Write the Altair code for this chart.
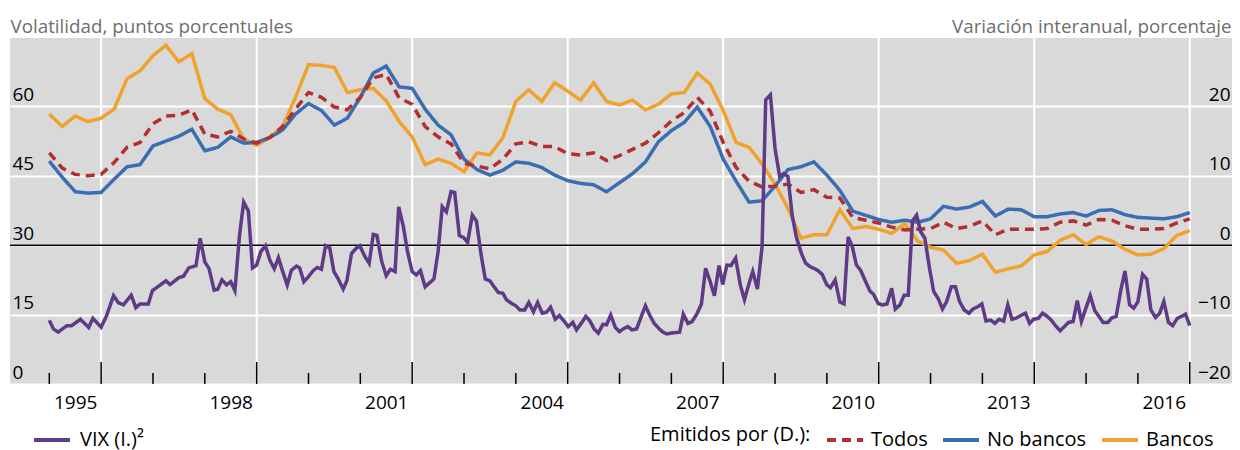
import altair as alt
import pandas as pd

# ---------------- data ----------------
bancos = [18.9, 17.1, 18.6, 17.8, 18.3, 19.6, 24.0, 25.1, 27.3, 28.8, 26.4, 27.6,
          21.1, 19.6, 18.8, 15.3, 14.4, 15.5, 17.1, 21.3, 26.0, 25.9, 25.6, 22.0,
          22.4, 22.6, 20.8, 17.8, 15.6, 11.6, 12.4, 11.8, 10.6, 13.3, 13.0, 15.5,
          20.7, 22.4, 20.7, 23.4, 22.2, 20.9, 23.4, 20.7, 20.2, 20.9, 19.5, 20.3,
          21.8, 22.0, 24.8, 23.2, 19.4, 14.8, 14.1, 11.7, 8.8, 5.3, 1.0, 1.5,
          1.5, 5.1, 2.4, 2.7, 2.3, 1.7, 3.1, 0.6, -0.3, -0.7, -2.6, -2.2,
          -1.3, -3.9, -3.4, -3.0, -1.4, -0.9, 0.7, 1.5, 0.1, 1.2, 0.6, -0.6,
          -1.4, -1.3, -0.5, 1.4, 2.1]
no_bancos = [12.1, 9.8, 7.7, 7.5, 7.6, 9.5, 11.3, 11.6, 14.3, 15.0, 15.7, 16.7,
             13.6, 14.1, 15.6, 14.7, 14.8, 15.5, 16.6, 18.9, 20.4, 19.4, 17.3, 18.3,
             21.3, 24.8, 25.8, 22.8, 22.6, 19.6, 17.3, 15.9, 12.4, 10.9, 10.1, 10.8,
             12.0, 11.8, 11.2, 10.1, 9.3, 8.9, 8.7, 7.7, 9.0, 10.3, 12.0, 14.9,
             16.5, 17.7, 19.9, 17.1, 12.4, 9.2, 6.2, 6.4, 8.5, 10.9, 11.3, 12.0,
             10.1, 7.9, 4.9, 4.3, 3.7, 3.3, 3.6, 3.3, 3.8, 5.6, 5.2, 5.5,
             6.3, 4.2, 5.2, 5.1, 4.1, 4.1, 4.5, 4.7, 4.2, 5.0, 5.1, 4.4,
             4.0, 3.9, 3.8, 4.1, 4.7]
todos = [13.3, 11.1, 10.2, 10.0, 10.2, 11.9, 14.1, 14.8, 17.5, 18.6, 18.7, 19.5,
         16.0, 15.6, 16.4, 15.3, 14.7, 15.5, 17.1, 19.6, 22.0, 21.3, 19.9, 19.5,
         21.3, 24.1, 24.6, 21.2, 20.3, 17.1, 15.6, 14.6, 11.8, 11.4, 11.0, 12.4,
         14.6, 14.9, 14.2, 14.2, 13.2, 13.0, 13.3, 12.2, 12.9, 13.8, 14.7, 16.2,
         17.9, 19.1, 21.3, 19.3, 14.8, 11.2, 9.2, 8.4, 8.5, 8.8, 7.6, 8.0,
         6.9, 6.8, 4.0, 3.6, 3.2, 2.6, 2.2, 2.3, 2.4, 3.3, 2.4, 2.7,
         3.5, 1.5, 2.3, 2.3, 2.3, 2.4, 3.3, 3.5, 2.9, 3.7, 3.6, 2.8,
         2.3, 2.3, 2.4, 3.2, 3.8]
quarters = [1995 + 0.25 * i for i in range(len(bancos))]

vix_t = [1995.00, 1995.08, 1995.17, 1995.34, 1995.43, 1995.60, 1995.76, 1995.84, 1996.00, 1996.10,
         1996.24, 1996.33, 1996.43, 1996.58, 1996.67, 1996.75, 1996.91, 1996.99, 1997.09, 1997.25,
         1997.33, 1997.50, 1997.59, 1997.69, 1997.83, 1997.91, 1998.00, 1998.08, 1998.18, 1998.25,
         1998.33, 1998.42, 1998.50, 1998.58, 1998.67, 1998.75, 1998.84, 1998.92, 1999.00, 1999.08,
         1999.17, 1999.26, 1999.34, 1999.42, 1999.50, 1999.59, 1999.67, 1999.77, 1999.83, 1999.91,
         2000.00, 2000.09, 2000.17, 2000.25, 2000.33, 2000.41, 2000.49, 2000.57, 2000.67, 2000.74,
         2000.83, 2000.91, 2000.99, 2001.09, 2001.17, 2001.25, 2001.32, 2001.41, 2001.50, 2001.58,
         2001.67, 2001.74, 2001.83, 2001.91, 2002.00, 2002.08, 2002.16, 2002.25, 2002.34, 2002.42,
         2002.50, 2002.58, 2002.66, 2002.75, 2002.82, 2002.91, 2002.99, 2003.07, 2003.16, 2003.24,
         2003.33, 2003.41, 2003.50, 2003.58, 2003.66, 2003.75, 2003.82, 2003.92, 2004.00, 2004.08,
         2004.17, 2004.25, 2004.34, 2004.42, 2004.51, 2004.59, 2004.67, 2004.76, 2004.84, 2004.93,
         2005.01, 2005.10, 2005.17, 2005.26, 2005.35, 2005.43, 2005.51, 2005.59, 2005.68, 2005.75,
         2005.83, 2005.92, 2006.00, 2006.07, 2006.16, 2006.24, 2006.33, 2006.42, 2006.50, 2006.58,
         2006.67, 2006.76, 2006.83, 2006.91, 2007.00, 2007.16, 2007.23, 2007.32, 2007.40, 2007.49,
         2007.58, 2007.66, 2007.75, 2007.83, 2007.92, 2007.99, 2008.07, 2008.15, 2008.24, 2008.33,
         2008.41, 2008.50, 2008.57, 2008.66, 2008.75, 2008.82, 2008.91, 2009.00, 2009.09, 2009.17,
         2009.25, 2009.33, 2009.41, 2009.51, 2009.59, 2009.67, 2009.75, 2009.83, 2009.91, 2010.00,
         2010.07, 2010.16, 2010.25, 2010.33, 2010.41, 2010.49, 2010.57, 2010.65, 2010.74, 2010.83,
         2010.90, 2010.99, 2011.07, 2011.16, 2011.25, 2011.32, 2011.41, 2011.49, 2011.57, 2011.65,
         2011.73, 2011.81, 2011.89, 2011.98, 2012.06, 2012.15, 2012.23, 2012.31, 2012.40, 2012.48,
         2012.56, 2012.65, 2012.74, 2012.82, 2012.91, 2012.99, 2013.07, 2013.16, 2013.24, 2013.32,
         2013.41, 2013.49, 2013.57, 2013.66, 2013.74, 2013.83, 2013.91, 2013.99, 2014.08, 2014.16,
         2014.24, 2014.33, 2014.41, 2014.50, 2014.58, 2014.66, 2014.75, 2014.83, 2014.91, 2015.00,
         2015.08, 2015.17, 2015.25, 2015.33, 2015.42, 2015.50, 2015.58, 2015.67, 2015.75, 2015.84,
         2015.92, 2016.00, 2016.09, 2016.17, 2016.25, 2016.34, 2016.42, 2016.50, 2016.59, 2016.67,
         2016.76, 2016.84, 2016.92, 2017.00]
vix_v = [13.8, 11.9, 11.2, 12.6, 12.6, 14.0, 12.2, 14.2, 12.3, 14.6,
         19.1, 17.6, 17.1, 19.2, 16.5, 17.3, 17.3, 20.2, 21.0, 22.3,
         21.5, 23.0, 23.3, 25.1, 25.6, 31.5, 26.4, 25.0, 20.3, 20.5,
         22.5, 21.4, 22.1, 20.2, 32.2, 39.3, 37.4, 25.1, 25.7, 28.6,
         29.9, 26.6, 24.9, 27.3, 24.4, 21.4, 24.6, 25.5, 25.1, 22.1,
         23.2, 24.5, 25.2, 24.8, 29.9, 29.4, 24.3, 22.8, 20.5, 22.3,
         28.2, 29.2, 29.9, 27.5, 26.1, 32.3, 32.1, 26.6, 23.4, 24.8,
         24.3, 38.3, 34.0, 28.6, 24.3, 23.6, 24.5, 21.0, 21.9, 22.7,
         28.6, 38.3, 37.2, 41.6, 41.4, 32.1, 31.7, 30.6, 36.5, 35.2,
         27.9, 22.7, 22.3, 21.0, 19.8, 19.6, 18.2, 17.4, 16.9, 16.0,
         16.0, 17.6, 15.6, 17.6, 15.3, 15.5, 16.6, 14.0, 14.8, 13.6,
         12.4, 13.3, 11.7, 13.1, 14.6, 13.6, 11.9, 11.0, 12.9, 12.8,
         14.9, 12.2, 11.3, 11.9, 12.4, 11.7, 11.9, 14.6, 16.9, 14.9,
         13.1, 12.0, 11.3, 10.8, 11.0, 11.2, 15.1, 13.1, 13.5, 15.1,
         17.3, 25.0, 22.1, 19.1, 25.6, 21.5, 25.7, 25.6, 27.2, 21.4,
         18.2, 21.8, 24.3, 20.5, 29.7, 61.4, 62.5, 50.9, 44.8, 45.5,
         44.8, 36.5, 31.8, 28.2, 26.1, 25.4, 25.0, 24.5, 23.7, 21.4,
         20.8, 22.5, 17.7, 17.3, 31.8, 29.7, 25.7, 24.6, 22.3, 20.1,
         19.4, 17.4, 17.1, 17.3, 20.7, 16.2, 17.1, 19.2, 19.2, 35.2,
         36.5, 32.9, 31.5, 25.0, 20.0, 18.4, 16.2, 17.8, 21.0, 21.0,
         17.8, 16.0, 15.3, 16.2, 16.7, 17.3, 13.6, 13.8, 13.1, 14.0,
         13.6, 17.1, 14.0, 14.3, 14.8, 15.3, 13.1, 14.0, 14.2, 15.3,
         14.7, 13.8, 12.6, 11.5, 12.4, 13.3, 13.5, 18.0, 13.5, 16.5,
         19.1, 15.8, 14.6, 13.3, 13.3, 14.3, 14.6, 20.3, 24.4, 17.1,
         16.4, 17.8, 23.7, 22.7, 16.0, 14.4, 15.3, 17.8, 13.3, 12.6,
         14.2, 14.6, 15.1, 12.6]

left_ticks = [0, 15, 30, 45, 60]
right_ticks = [-20, -10, 0, 10, 20]
label_years = [1995, 1998, 2001, 2004, 2007, 2010, 2013, 2016]
major_years = [1996, 1999, 2002, 2005, 2008, 2011, 2014, 2017]
minor_years = [1995, 1997, 1998, 2000, 2001, 2003, 2004, 2006, 2007, 2009, 2010,
               2012, 2013, 2015, 2016]
zero_line = [0]

series_names = ["Todos", "No bancos", "Bancos"]
series_colors = ["#B22F2F", "#3A6EB3", "#F0A32C"]
vix_name = "VIX (I.)\u00b2"
vix_color = "#5E3A87"

# ---------------- layout ----------------
W = 1222
H = 346
FONT = "Open Sans"

xscale = alt.Scale(domain=[1994.242, 2017.815], nice=False, zero=False)
lscale = alt.Scale(domain=[0, 74.78], nice=False, zero=False)
rscale = alt.Scale(domain=[-20, 29.85], nice=False, zero=False)

xaxis = alt.Axis(values=[y + 0.5 for y in label_years], labelExpr="floor(datum.value)",
                 domain=False, ticks=False, tickSize=0, grid=False, title=None,
                 labelFontSize=19, labelColor="black", labelPadding=18,
                 labelBaseline="middle", labelFlush=False, labelOverlap=False)


def xenc():
    return alt.X("t:Q", scale=xscale, axis=xaxis)


vgrid = alt.Chart(pd.DataFrame({"t": major_years})).mark_rule(
    color="white", strokeWidth=2).encode(x=xenc())

major_ticks = alt.Chart(pd.DataFrame({"t": major_years})).mark_rule(
    color="black", strokeWidth=1.5).encode(
    x=xenc(), y=alt.value(H), y2=alt.value(H - 22))
minor_ticks = alt.Chart(pd.DataFrame({"t": minor_years})).mark_rule(
    color="black", strokeWidth=1.5).encode(
    x=xenc(), y=alt.value(H), y2=alt.value(H - 11))

left_axis = alt.Axis(
    title="Volatilidad, puntos porcentuales", titleAngle=0, titleX=0, titleY=-6,
    titleAlign="left", titleBaseline="alphabetic", titleFontSize=18.8,
    titleFontWeight="normal", titleColor="#6e6e6e",
    values=left_ticks, labelAlign="left", labelPadding=-2, labelBaseline="alphabetic",
    labelOffset=-6, labelFontSize=19, labelColor="black", domain=False, ticks=False,
    tickSize=0, grid=True, gridColor="white", gridWidth=2, labelFlush=False,
    labelOverlap=False)

right_axis = alt.Axis(
    orient="right",
    title="Variación interanual, porcentaje", titleAngle=0, titleX=-1, titleY=-6,
    titleAlign="right", titleBaseline="alphabetic", titleFontSize=18.8,
    titleFontWeight="normal", titleColor="#6e6e6e",
    values=right_ticks, labelAlign="right", labelPadding=-2, labelBaseline="alphabetic",
    labelOffset=-6, labelFontSize=19, labelColor="black", domain=False, ticks=False,
    tickSize=0, grid=False, labelFlush=False, labelOverlap=False)

LEG_Y = 382

vix_df = pd.DataFrame({"t": vix_t, "v": vix_v, "s": vix_name})
vix_legend = alt.Legend(title=None, orient="none", legendX=22, legendY=LEG_Y,
                        direction="horizontal", symbolType="stroke", symbolSize=1296,
                        symbolStrokeWidth=4, labelFontSize=20, labelOffset=8,
                        labelColor="black", padding=0)
vix = alt.Chart(vix_df).mark_line(strokeWidth=3.5).encode(
    x=xenc(),
    y=alt.Y("v:Q", scale=lscale, axis=left_axis),
    color=alt.Color("s:N", scale=alt.Scale(domain=[vix_name], range=[vix_color]),
                    legend=vix_legend))
left_layer = alt.layer(vix)

ser_legend = alt.Legend(title="Emitidos por (D.):", titleOrient="left", titleFontSize=20,
                        titleFontWeight="normal", titleColor="black", titlePadding=14,
                        titleAnchor="middle", titleBaseline="middle",
                        orient="none", legendX=640, legendY=LEG_Y, direction="horizontal",
                        symbolType="stroke", symbolSize=1296, symbolStrokeWidth=4,
                        labelFontSize=20, labelOffset=6, labelColor="black",
                        columnPadding=7, padding=0, labelLimit=300)
color_scale = alt.Scale(domain=series_names, range=series_colors)
dash_scale = alt.Scale(domain=series_names, range=[[9, 6], [1, 0], [1, 0]])

zero = alt.Chart(pd.DataFrame({"v": zero_line})).mark_rule(
    color="black", strokeWidth=1.5).encode(y=alt.Y("v:Q", scale=rscale, axis=right_axis))


def series_layer(name, values):
    df = pd.DataFrame({"t": quarters, "v": values, "s": name})
    return alt.Chart(df).mark_line(strokeWidth=3.5).encode(
        x=xenc(),
        y=alt.Y("v:Q", scale=rscale, axis=right_axis),
        color=alt.Color("s:N", scale=color_scale, legend=ser_legend),
        strokeDash=alt.StrokeDash("s:N", scale=dash_scale, legend=ser_legend))


right_layer = alt.layer(zero,
                        series_layer("Bancos", bancos),
                        series_layer("No bancos", no_bancos),
                        series_layer("Todos", todos))

chart = alt.layer(vgrid, major_ticks, minor_ticks, right_layer, left_layer).resolve_scale(
    y="independent", color="independent", strokeDash="independent"
).properties(
    width=W, height=H,
    autosize=alt.AutoSizeParams(type="none"),
    padding={"left": 2, "top": 30, "right": 0, "bottom": 70},
).configure(font=FONT).configure_view(fill="#D9D9D9", strokeWidth=0)

chart.save("out.html", embed_options={"renderer": "svg", "actions": False})
